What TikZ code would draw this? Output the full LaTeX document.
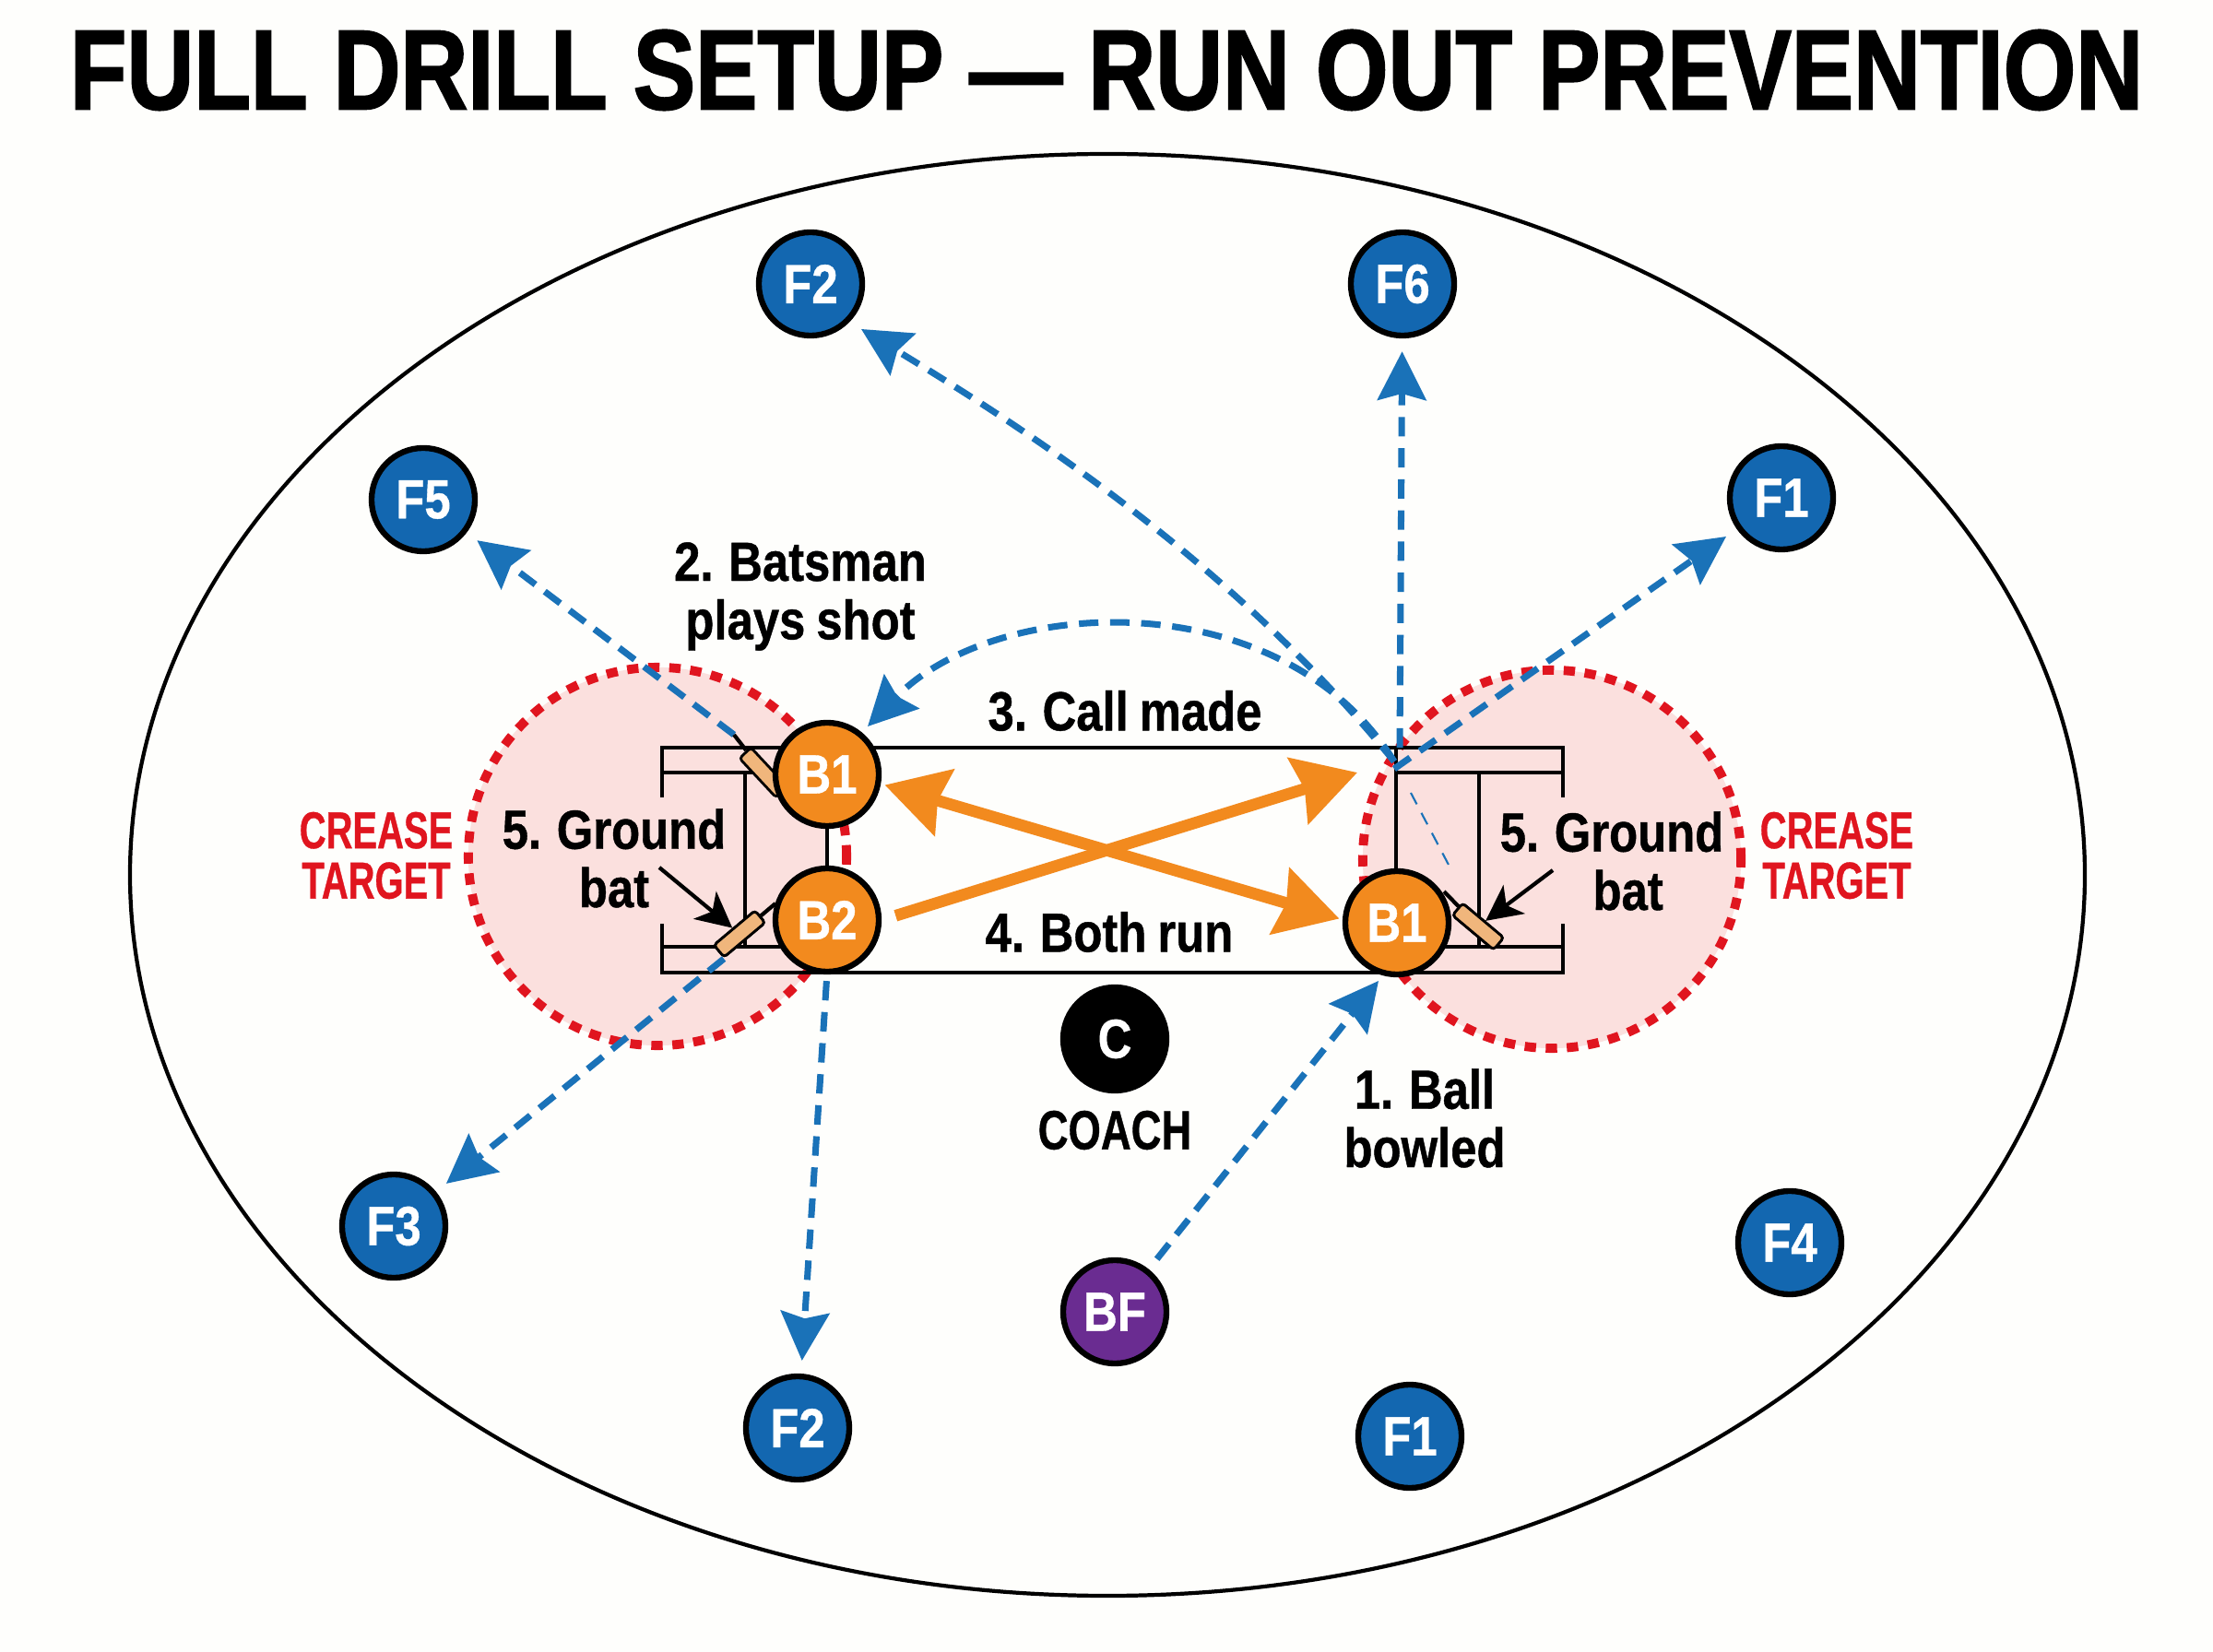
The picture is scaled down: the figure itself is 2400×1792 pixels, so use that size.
\documentclass[tikz,border=0pt]{standalone}
\usepackage{fontspec}
\setmainfont{Liberation Sans}[FakeStretch=0.85,WordSpace=0.85,BoldFeatures={FakeBold=0.7}]
\newfontfamily\titlefont{Liberation Sans}[FakeStretch=0.82,BoldFeatures={FakeBold=1.6}]
\newfontfamily\narrowfont{Liberation Sans}[FakeStretch=0.76,BoldFeatures={FakeBold=0.6}]
\newfontfamily\creasefont{Liberation Sans}[FakeStretch=0.71,BoldFeatures={FakeBold=0.6}]
\usetikzlibrary{arrows.meta,positioning}
\definecolor{pagewhite}{HTML}{FEFEFC}
\definecolor{fieldblue}{HTML}{1367B0}
\definecolor{pathblue}{HTML}{1A72B8}
\definecolor{runorange}{HTML}{F28A1E}
\definecolor{bowlpurple}{HTML}{6A2C91}
\definecolor{creasered}{HTML}{E0151F}
\definecolor{creasepink}{HTML}{FBE0DE}
\definecolor{batwood}{HTML}{F0B67C}
\tikzset{main node/.style={circle,draw=black,line width=1.8pt,minimum size=1.12cm,inner sep=0pt,text=white,font=\bfseries\fontsize{17}{18}\selectfont},
         field node/.style={main node,fill=fieldblue},
         bat node/.style={main node,fill=runorange},
         edge label/.style={rectangle,draw=none,fill=none,align=center,inner sep=0pt,font=\bfseries\fontsize{17}{18}\selectfont},
         crease label/.style={edge label,text=creasered,font=\creasefont\bfseries\fontsize{16}{15.5}\selectfont},
         crease zone/.style={circle,draw=none,fill=creasepink,minimum size=4.1cm,inner sep=0pt},
         crease ring/.style={circle,draw=creasered,line width=2.8pt,dash pattern=on 3.5pt off 3pt,minimum size=4.1cm,inner sep=0pt},
         pitch line/.style={draw=black,line width=1.2pt},
         path edge/.style={draw=pathblue,line width=2pt,dash pattern=on 6pt off 3.6pt,-{Stealth[length=15pt,width=15pt,inset=2pt]}},
         node edge/.style={path edge,shorten >=4pt},
         run edge/.style={draw=runorange,line width=3.6pt},
         bat blade/.style={rectangle,rounded corners=1pt,draw=black,line width=.8pt,fill=batwood,minimum width=.58cm,minimum height=.17cm,inner sep=0pt},
         bat grip/.style={draw=black,line width=1.2pt},
         bat pointer/.style={draw=black,line width=1.2pt,-{Stealth[length=11pt,width=11pt,inset=3pt]}},
}
\begin{document}
\begin{tikzpicture}[x=0.01cm,y=-0.01cm,>={Stealth[length=19pt,width=21pt,inset=2pt]}]
\fill[pagewhite] (0,0) rectangle (2400,1792);
\useasboundingbox (0,0) rectangle (2400,1792);
\node[edge label,font=\titlefont\bfseries\fontsize{35}{36}\selectfont,text=black] (title) at (1200,76) {FULL DRILL SETUP — RUN OUT PREVENTION};
\draw[black,line width=1.2pt] (1201,949) ellipse (1060 and 782);

% crease zones
\node[crease zone] (zone1) at (713,929) {};
\node[crease zone] (zone2) at (1683,932) {};
\fill[pagewhite] (897,811) rectangle (1470,1055);
\node[crease ring] (ring1) at (713,929) {};
\node[crease ring] (ring2) at (1683,932) {};

% pitch
\draw[pitch line] (808,838) -- (808,1027);
\draw[pitch line] (1604,838) -- (1604,1027);
\draw[pitch line] (718,865) -- (718,811) -- (1695,811) -- (1695,865);
\draw[pitch line] (718,1002) -- (718,1055) -- (1695,1055) -- (1695,1002);
\draw[pitch line] (718,838) -- (897,838);
\draw[pitch line] (718,1027) -- (897,1027);
\draw[pitch line] (1514,838) -- (1695,838);
\draw[pitch line] (1514,1027) -- (1695,1027);
\draw[pitch line] (1514,811) -- (1514,990);
\draw[pitch line] (897,850) -- (897,990);

\node[field node] (F2a) at (879,308) {F2};
\node[field node] (F6) at (1521,308) {F6};
\node[field node] (F5) at (459,542) {F5};
\node[field node] (F1a) at (1932,540) {F1};
\node[field node] (F3) at (427,1330) {F3};
\node[field node] (F2b) at (865,1549) {F2};
\node[field node] (F1b) at (1529,1558) {F1};
\node[field node] (F4) at (1941,1348) {F4};
\node[main node,fill=bowlpurple] (BF) at (1209,1423) {BF};
\node[main node,fill=black] (C) at (1209,1127) {C};

\coordinate (hub) at (1512,826);
\coordinate (hubtop) at (1518,811);
\coordinate (hubright) at (1512,834);
\coordinate (gripA) at (796,797);
\coordinate (exitB) at (785,1040);
\coordinate (ballEnd) at (1495,1064);
\coordinate (callEnd) at (1472,838);
\coordinate (pointA) at (715,941);
\coordinate (pointB) at (1684,944);
\coordinate (fadeA) at (1530,860);
\coordinate (fadeB) at (1572,940);
\coordinate (curveA) at (934,357);
\coordinate (curveB) at (941,788);

% fielding paths
\draw[path edge] (hub) .. controls (1332,605) and (1102,459) .. (curveA);
\draw[node edge] (hubtop) -- (F6);
\draw[node edge] (hubright) -- (F1a);
\draw[path edge] (hub) .. controls (1390,630) and (1080,645) .. (curveB);
\draw[node edge] (gripA) -- (F5);
\draw[node edge] (exitB) -- (F3);
\draw[node edge,shorten <=2.6pt] (897,1055) -- (F2b);
\draw[path edge,shorten <=4pt] (BF) -- (ballEnd);
\draw[pathblue,line width=.6pt,dash pattern=on 4pt off 3pt] (fadeA) -- (fadeB);

% bats
\node[bat blade,rotate=-47] (batA) at (828,838) {};
\node[bat blade,rotate=40] (batB) at (802,1013) {};
\node[bat blade,rotate=-40] (batC) at (1603,1005) {};
\draw[bat grip] (gripA) -- (batA);
\draw[bat grip] (batB) -- (841,980);
\draw[bat grip] (batC) -- (1566,967);
\node[bat blade,rotate=40] at (802,1013) {};
\node[bat blade,rotate=-40] at (1603,1005) {};
\draw[bat pointer] (pointA) -- (batB);
\draw[bat pointer] (pointB) -- (batC);

\node[bat node] (B1a) at (897,840) {B1};
\node[bat node] (B2) at (897,998) {B2};
\node[bat node] (B1b) at (1515,1001) {B1};

% running lines
\draw[run edge,->,shorten <=4.5pt] (B2.east) -- (callEnd);
\draw[run edge,<->,shorten <=1pt,shorten >=1pt] ([yshift=-3pt]B1a.east) -- ([yshift=1pt]B1b.west);

\node[edge label] (shot) at (868,647) {2. Batsman\\plays shot};
\node[edge label] (call) at (1220,771) {3. Call made};
\node[edge label] (both) at (1203,1011) {4. Both run};
\node[edge label] (gl) at (666,931) {5. Ground\\bat};
\node[edge label] (gr) at (1748,934) {5. Ground\\\hspace*{10pt}bat};
\node[edge label] (ball) at (1545,1213) {1. Ball\\bowled};
\node[crease label] (cl) at (408,928) {CREASE\\TARGET};
\node[crease label] (cr) at (1992,928) {CREASE\\TARGET};
\node[edge label,font=\narrowfont\bfseries\fontsize{17}{18}\selectfont] (coach) at (1209,1226) {COACH};
\end{tikzpicture}
\end{document}
